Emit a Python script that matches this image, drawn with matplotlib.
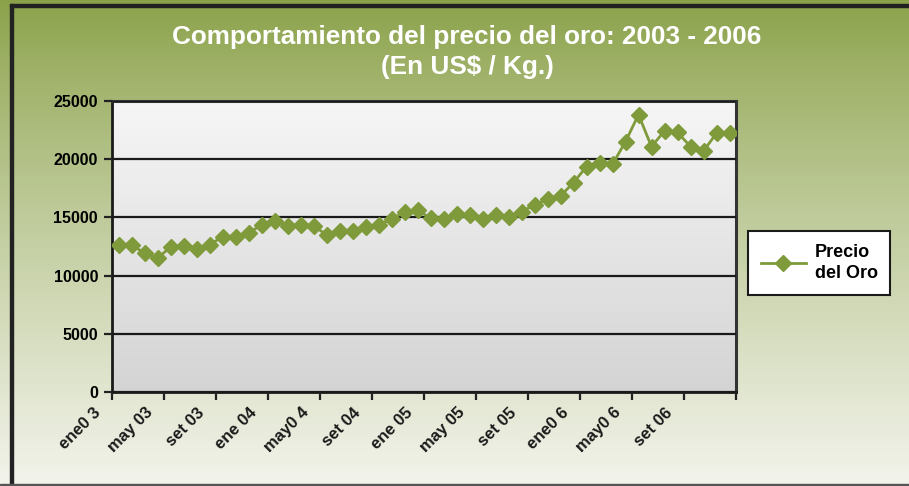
import numpy as np
import matplotlib.pyplot as plt
from matplotlib.transforms import offset_copy
from matplotlib.patches import Rectangle

plt.rcParams['font.family'] = ['Liberation Sans', 'DejaVu Sans']
plt.rcParams['font.weight'] = 'bold'

# monthly gold price, ene 2003 - dic 2006 (US$ / Kg)
precio = [12630, 12630, 11940, 11490, 12460, 12570, 12290, 12630,
          13350, 13350, 13660, 14350, 14720, 14290, 14380, 14260,
          13520, 13860, 13860, 14180, 14380, 14840, 15470, 15640,
          14920, 14890, 15290, 15180, 14890, 15180, 15040, 15470,
          16100, 16550, 16840, 17990, 19360, 19650, 19560, 21510,
          23830, 21080, 22430, 22310, 21080, 20710, 22230, 22230]
etiquetas = ['ene0 3', 'may 03', 'set 03', 'ene 04', 'may0 4', 'set 04',
             'ene 05', 'may 05', 'set 05', 'ene0 6', 'may0 6', 'set 06']
y_ticks = [0, 5000, 10000, 15000, 20000, 25000]

verde = '#7f9a3a'

fig = plt.figure(figsize=(9.09, 4.86), dpi=100)

# figure background gradient
bg = fig.add_axes([0, 0, 1, 1], zorder=-10)
top = np.array([0x8a, 0xa1, 0x48]) / 255
bot = np.array([0xf3, 0xf4, 0xec]) / 255
t = np.linspace(0, 1, 256)[:, None]
grad = top + (bot - top) * t ** 0.85
bg.imshow(grad[:, None, :], aspect='auto', extent=[0, 1, 0, 1])
bg.set_xlim(0, 1)
bg.set_ylim(0, 1)
bg.axis('off')
# dark frame (top, left, bottom)
bg.add_patch(Rectangle((10 / 909, 0), 3 / 909, 1 - 4 / 486, color='#222222'))
bg.add_patch(Rectangle((10 / 909, 1 - 7 / 486), 1, 3 / 486, color='#222222'))
bg.add_patch(Rectangle((0, 0), 1, 2 / 486, color='#555555'))

ax = fig.add_axes([112 / 909, 1 - 392 / 486, 624 / 909, 291 / 486])
x = np.arange(len(precio))

# plot area gradient
pa = np.linspace(0xf6, 0xd4, 256)[:, None] / 255
ax.imshow(np.repeat(pa[:, :, None], 3, axis=2), aspect='auto',
          extent=[-0.5, 47.5, 0, 25000], zorder=0)

ax.plot(x, precio, color=verde, lw=2, marker='D', ms=8,
        markeredgecolor=verde, label='Precio\ndel Oro', zorder=3)

ax.set_xlim(-0.5, 47.5)
ax.set_ylim(0, 25000)
ax.set_yticks(y_ticks)
ax.set_yticklabels([str(v) for v in y_ticks], fontsize=11.5, fontweight='bold')
ax.yaxis.grid(True, color='#1a1a1a', lw=1.6)
ax.set_axisbelow(False)
ax.set_xticks(np.arange(-0.5, 48, 4))
ax.set_xticklabels([])
ax.tick_params(axis='both', direction='out', length=6, width=1.6, color='#222222')
ax.tick_params(axis='y', pad=4)

for sp in ['left', 'bottom']:
    ax.spines[sp].set_color('#1a1a1a')
    ax.spines[sp].set_linewidth(2)
for sp in ['top', 'right']:
    ax.spines[sp].set_color('#333333')
    ax.spines[sp].set_linewidth(2.2)

tr = offset_copy(ax.get_xaxis_transform(), fig=fig, x=-19, y=-13, units='dots')
for i, lab in enumerate(etiquetas):
    ax.text(-0.5 + 4 * i, 0, lab, transform=tr, rotation=45, ha='right',
            va='top', rotation_mode='anchor', fontsize=12, fontweight='bold',
            color='#1a1a1a')

fig.text(467 / 909, 1 - 37 / 486, 'Comportamiento del precio del oro: 2003 - 2006',
         ha='center', va='center', color='white', fontsize=18.8, fontweight='bold')
fig.text(467 / 909, 1 - 67 / 486, '(En US$ / Kg.)',
         ha='center', va='center', color='white', fontsize=18.8, fontweight='bold')

leg = fig.legend(loc='center left', bbox_to_anchor=(748 / 909, 1 - 263 / 486),
                 frameon=True, fancybox=False, handlelength=2.5,
                 handletextpad=0.5, borderpad=0.7, borderaxespad=0,
                 prop={'weight': 'bold', 'size': 13})
for txt in leg.get_texts():
    txt.set_multialignment('left')
    txt.set_linespacing(1.3)
leg.get_frame().set_edgecolor('#1a1a1a')
leg.get_frame().set_linewidth(1.5)
leg.get_frame().set_facecolor('white')
leg.get_frame().set_alpha(1)

fig.savefig('out.png', dpi=100)
